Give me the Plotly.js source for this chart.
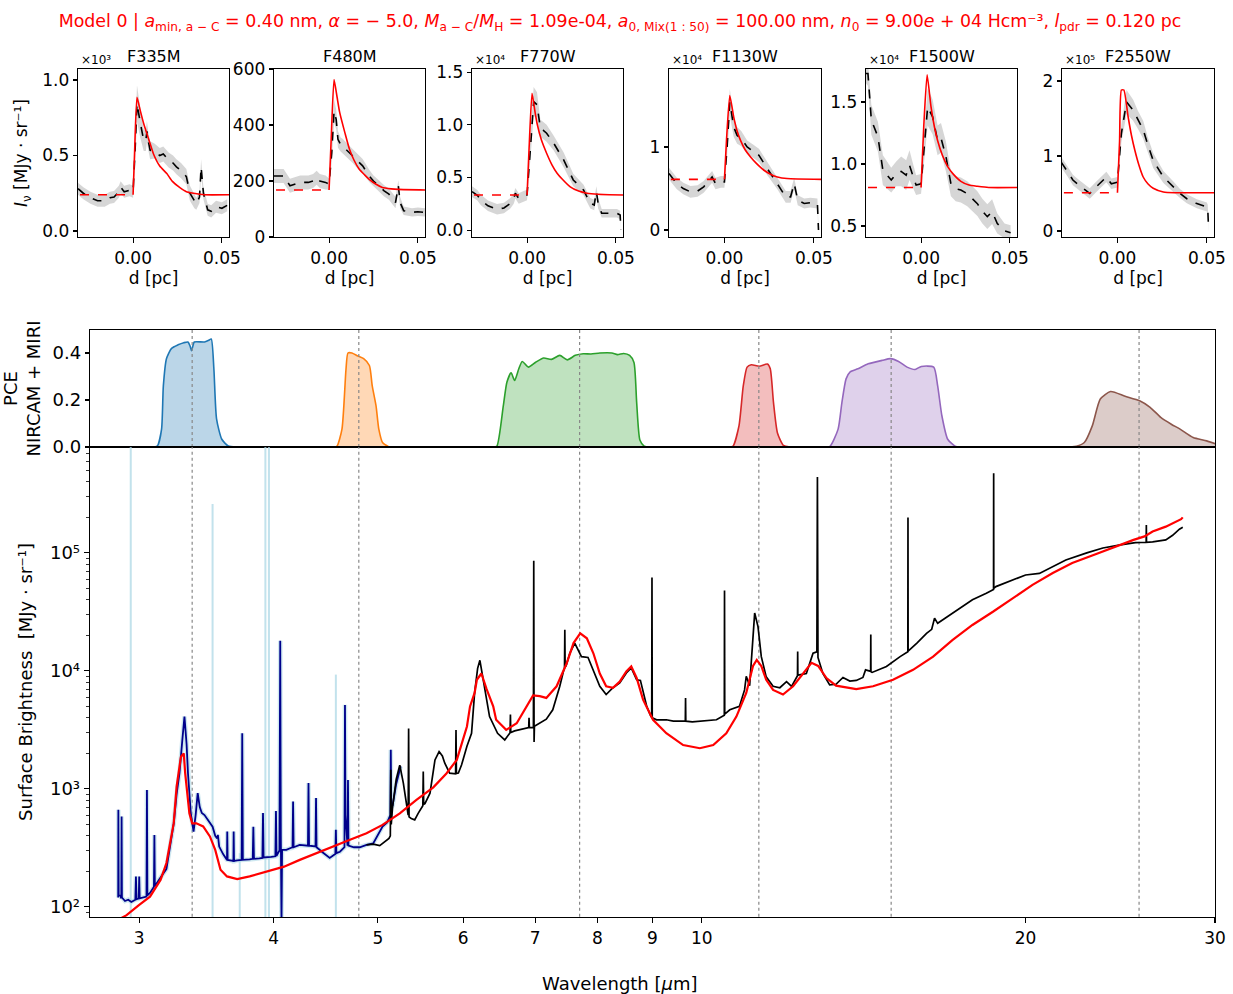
<!DOCTYPE html>
<html><head><meta charset="utf-8">
<script src="https://cdn.plot.ly/plotly-3.0.1.min.js"></script>
<style>body{margin:0;background:#fff;} #chart{width:1233px;height:994px;}</style>
</head><body><div id="chart"></div>
<script>
// ---------------- DATA ----------------
const filterNames = ['F335M','F480M','F770W','F1130W','F1500W','F2550W'];
const filterScale = ['×10³','','×10⁴','×10⁴','×10⁴','×10⁵'];
const filterCenters = [3.36, 4.8, 7.7, 11.3, 15.0, 25.5];

// Profiles: distance d [pc], observed (in units of the panel multiplier), uncertainty, model
const p1D   = [-0.031,-0.028,-0.024,-0.020,-0.016,-0.013,-0.0107,-0.008,-0.007,-0.005,-0.002,0.000,0.0012,0.0022,0.004,0.006,0.0072,0.0078,0.0085,0.0096,0.012,0.015,0.017,0.020,0.0225,0.0244,0.027,0.030,0.032,0.0345,0.0356,0.0374,0.0383,0.0396,0.042,0.044,0.0467,0.050,0.053];
const p1Obs = [0.28,0.25,0.22,0.20,0.20,0.22,0.225,0.26,0.29,0.26,0.27,0.26,0.55,0.845,0.72,0.60,0.60,0.66,0.60,0.535,0.53,0.50,0.51,0.47,0.45,0.425,0.40,0.36,0.25,0.20,0.18,0.225,0.425,0.25,0.14,0.13,0.16,0.15,0.17];
const p1Err = [0.04,0.04,0.04,0.04,0.04,0.04,0.04,0.04,0.04,0.04,0.04,0.04,0.08,0.12,0.10,0.07,0.07,0.07,0.06,0.06,0.05,0.05,0.05,0.05,0.05,0.05,0.05,0.05,0.05,0.05,0.04,0.04,0.05,0.04,0.04,0.04,0.04,0.04,0.04];
const p1ModD = [0,0.0008,0.0022,0.004,0.006,0.009,0.0115,0.015,0.019,0.022,0.026,0.030,0.034,0.040,0.054];
const p1Mod  = [0.24,0.5,0.885,0.80,0.71,0.60,0.51,0.43,0.38,0.33,0.29,0.26,0.25,0.24,0.24];
const p1Base = 0.24;

const p2D   = [-0.031,-0.0256,-0.022,-0.019,-0.0163,-0.0117,-0.009,-0.007,-0.0052,-0.002,0.000,0.0015,0.0028,0.004,0.005,0.0065,0.0078,0.010,0.0133,0.0160,0.0189,0.0226,0.025,0.028,0.031,0.0337,0.0374,0.039,0.040,0.042,0.0467,0.050,0.054];
const p2Obs = [218,218,183,190,195,195,200,212,200,195,189,300,450,420,349,330,325,310,289,270,254,218,200,183,165,153,123,183,123,94,88,90,88];
const p2Err = [25,25,25,25,25,25,25,25,25,25,20,30,40,35,30,25,25,25,25,25,25,22,20,20,20,20,20,20,20,15,15,15,15];
const p2ModD = [0,0.0012,0.0028,0.0045,0.006,0.009,0.0115,0.014,0.017,0.020,0.0226,0.026,0.030,0.035,0.039,0.054];
const p2Mod  = [168,350,562,500,444,370,313,275,242,222,206,190,177,172,170,168];
const p2Base = 168;

const p3D   = [-0.031,-0.028,-0.026,-0.022,-0.0169,-0.013,-0.0094,-0.0075,-0.0066,-0.0047,-0.002,0.000,0.002,0.0037,0.0056,0.0075,0.009,0.011,0.015,0.0206,0.026,0.0318,0.0356,0.0378,0.039,0.040,0.042,0.046,0.0506,0.0524,0.0528];
const p3Obs = [0.365,0.33,0.285,0.23,0.197,0.21,0.254,0.30,0.35,0.30,0.32,0.333,0.8,1.22,1.19,0.967,0.95,0.92,0.825,0.666,0.476,0.38,0.254,0.238,0.365,0.254,0.159,0.159,0.159,0.143,0.0];
const p3Err = [0.05,0.05,0.05,0.05,0.05,0.05,0.05,0.05,0.05,0.05,0.05,0.05,0.10,0.14,0.12,0.08,0.08,0.08,0.07,0.07,0.06,0.05,0.05,0.05,0.05,0.05,0.04,0.04,0.04,0.04,0.03];
const p3ModD = [0,0.0012,0.0028,0.0045,0.0056,0.008,0.011,0.014,0.0169,0.020,0.0243,0.029,0.0337,0.040,0.054];
const p3Mod  = [0.333,0.8,1.30,1.12,1.015,0.86,0.73,0.62,0.54,0.48,0.41,0.37,0.35,0.34,0.333];
const p3Base = 0.333;

const p4D   = [-0.031,-0.0266,-0.023,-0.019,-0.015,-0.0116,-0.0069,-0.005,-0.002,0.000,0.0015,0.003,0.0052,0.0071,0.0095,0.0127,0.0160,0.0193,0.024,0.0296,0.0343,0.037,0.039,0.041,0.0446,0.048,0.052,0.0526];
const p4Obs = [0.68,0.56,0.50,0.46,0.47,0.52,0.64,0.56,0.58,0.58,1.0,1.54,1.24,1.14,1.10,1.0,0.95,0.9,0.74,0.56,0.40,0.40,0.56,0.36,0.32,0.33,0.32,0.0];
const p4Err = [0.07,0.07,0.07,0.07,0.07,0.07,0.07,0.07,0.07,0.07,0.10,0.16,0.12,0.10,0.09,0.08,0.08,0.08,0.08,0.07,0.07,0.07,0.07,0.06,0.06,0.06,0.06,0.04];
const p4ModD = [0,0.0012,0.003,0.0052,0.007,0.009,0.0115,0.0146,0.018,0.0221,0.026,0.0296,0.035,0.054];
const p4Mod  = [0.61,1.1,1.62,1.36,1.20,1.08,0.97,0.88,0.80,0.72,0.67,0.64,0.62,0.61];
const p4Base = 0.61;

const p5D   = [-0.031,-0.0299,-0.028,-0.0243,-0.0215,-0.0168,-0.014,-0.0112,-0.0084,-0.0065,-0.0045,-0.0028,0.000,0.002,0.0037,0.0065,0.0093,0.0112,0.014,0.0168,0.0195,0.0224,0.026,0.0317,0.0345,0.0373,0.040,0.0429,0.047,0.0504];
const p5Obs = [1.73,1.73,1.355,1.22,0.95,0.87,0.92,0.94,0.91,0.99,0.90,0.83,0.84,1.2,1.46,1.38,1.19,1.21,1.06,0.84,0.80,0.79,0.76,0.68,0.62,0.575,0.615,0.52,0.46,0.446];
const p5Err = [0.08,0.10,0.12,0.12,0.12,0.10,0.10,0.12,0.12,0.12,0.10,0.08,0.08,0.12,0.15,0.14,0.12,0.12,0.12,0.10,0.10,0.10,0.10,0.10,0.10,0.10,0.10,0.08,0.06,0.06];
const p5ModD = [0,0.0015,0.0034,0.0056,0.0075,0.0093,0.012,0.0149,0.018,0.0224,0.027,0.0317,0.038,0.054];
const p5Mod  = [0.81,1.3,1.72,1.46,1.30,1.19,1.07,0.98,0.92,0.86,0.83,0.82,0.81,0.81];
const p5Base = 0.81;

const p6D   = [-0.0315,-0.028,-0.0249,-0.022,-0.0193,-0.0155,-0.0118,-0.009,-0.0062,-0.0034,0.000,0.0022,0.0051,0.0088,0.0115,0.0144,0.017,0.020,0.0257,0.0313,0.035,0.0388,0.0444,0.050,0.0505,0.051];
const p6Obs = [0.92,0.80,0.68,0.62,0.57,0.50,0.59,0.66,0.72,0.63,0.65,1.30,1.72,1.61,1.48,1.35,1.15,0.94,0.72,0.59,0.50,0.43,0.365,0.32,0.30,0.01];
const p6Err = [0.07,0.07,0.07,0.07,0.07,0.07,0.07,0.07,0.07,0.07,0.07,0.12,0.16,0.14,0.12,0.12,0.10,0.10,0.08,0.07,0.06,0.06,0.06,0.06,0.05,0.02];
const p6ModD = [0,0.0012,0.0022,0.0036,0.006,0.0078,0.0097,0.012,0.0144,0.017,0.020,0.0257,0.032,0.054];
const p6Mod  = [0.51,1.2,1.88,1.88,1.52,1.28,1.08,0.88,0.72,0.63,0.57,0.52,0.51,0.51];
const p6Base = 0.51;

// Filter PCE curves [wavelength um, PCE]
const pceF335M = [[3.10,0],[3.12,0.005],[3.147,0.076],[3.159,0.26],[3.18,0.376],[3.215,0.42],[3.26,0.435],[3.30,0.444],[3.33,0.447],[3.345,0.43],[3.355,0.41],[3.365,0.43],[3.375,0.447],[3.45,0.447],[3.48,0.454],[3.50,0.46],[3.52,0.33],[3.54,0.12],[3.58,0.033],[3.63,0.004],[3.69,0]];
const pceF480M = [[4.55,0],[4.58,0.003],[4.63,0.076],[4.67,0.33],[4.69,0.40],[4.73,0.40],[4.79,0.387],[4.85,0.376],[4.91,0.347],[4.94,0.26],[4.98,0.176],[5.01,0.076],[5.05,0.019],[5.12,0]];
const pceF770W = [[6.40,0],[6.45,0.003],[6.54,0.176],[6.59,0.276],[6.65,0.316],[6.70,0.283],[6.76,0.333],[6.81,0.364],[6.90,0.34],[7.01,0.361],[7.13,0.379],[7.25,0.373],[7.38,0.39],[7.50,0.371],[7.63,0.39],[7.76,0.397],[7.89,0.396],[8.04,0.40],[8.25,0.40],[8.35,0.393],[8.46,0.398],[8.57,0.39],[8.65,0.36],[8.70,0.19],[8.76,0.03],[8.84,0.004],[8.90,0]];
const pceF1130W = [[10.60,0],[10.69,0.003],[10.83,0.09],[10.93,0.26],[11.02,0.34],[11.12,0.35],[11.31,0.344],[11.51,0.353],[11.58,0.333],[11.66,0.19],[11.76,0.06],[11.91,0.007],[12.07,0]];
const pceF1500W = [[13.0,0],[13.16,0.003],[13.39,0.076],[13.50,0.19],[13.62,0.29],[13.74,0.32],[13.97,0.333],[14.28,0.354],[14.72,0.369],[14.98,0.376],[15.24,0.364],[15.52,0.34],[15.79,0.33],[16.0,0.343],[16.43,0.34],[16.57,0.26],[16.72,0.133],[16.93,0.033],[17.22,0.002],[17.4,0]];
const pceF2550W = [[22.0,0],[22.30,0.003],[22.68,0.019],[23.07,0.09],[23.47,0.204],[23.99,0.236],[24.75,0.216],[25.53,0.197],[26.11,0.169],[26.71,0.126],[27.32,0.097],[27.84,0.076],[28.63,0.04],[29.47,0.026],[30.3,0.007]];

// Spectra [wavelength um, surface brightness MJy/sr]
const nirspecSpec = [[2.868,120],[2.869,664],[2.871,126],[2.880,125],[2.887,118],[2.889,582],[2.891,120],[2.91,112],[2.93,115],[2.95,110],[2.975,115],[2.979,181],[2.983,116],[2.997,118],[3.0,181],[3.003,118],[3.02,120],[3.047,122],[3.05,977],[3.053,125],[3.07,131],[3.09,145],[3.096,148],[3.099,407],[3.102,150],[3.13,170],[3.16,195],[3.18,210],[3.20,300],[3.23,510],[3.25,900],[3.27,1356],[3.29,2600],[3.305,4100],[3.32,2400],[3.33,1356],[3.35,624],[3.37,434],[3.385,600],[3.40,920],[3.415,700],[3.43,624],[3.45,600],[3.47,560],[3.49,520],[3.51,478],[3.53,400],[3.545,380],[3.55,407],[3.555,370],[3.56,324],[3.59,280],[3.62,250],[3.622,434],[3.625,250],[3.67,245],[3.672,434],[3.675,245],[3.70,248],[3.735,250],[3.74,2960],[3.745,250],[3.80,252],[3.825,255],[3.83,478],[3.835,255],[3.88,258],[3.905,260],[3.91,624],[3.915,262],[3.98,265],[4.015,268],[4.02,650],[4.025,270],[4.05,300],[4.057,18000],[4.062,400],[4.068,70],[4.073,304],[4.11,304],[4.165,320],[4.17,780],[4.175,320],[4.23,335],[4.305,330],[4.31,1120],[4.315,330],[4.375,325],[4.38,835],[4.385,320],[4.45,286],[4.51,260],[4.55,275],[4.565,280],[4.57,450],[4.575,285],[4.61,293],[4.655,320],[4.66,5150],[4.665,600],[4.685,330],[4.69,1190],[4.695,330],[4.75,320],[4.81,320],[4.88,335],[4.95,345],[5.05,480],[5.10,520],[5.135,600],[5.14,2140],[5.145,700],[5.16,720],[5.20,1100],[5.25,1550]];
// light-blue uncertainty spikes [wavelength, low, high]
const nirspecErrSpikes = [[2.946,70,1e6],[3.51,70,2.6e5],[3.72,70,285],[3.93,70,1e6],[3.96,70,1e6],[4.57,70,9300]];

const miriSpec = [[4.88,335],[4.95,340],[5.02,330],[5.08,360],[5.12,380],[5.135,400],[5.14,1450],[5.145,500],[5.16,705],[5.20,1200],[5.24,1590],[5.28,1120],[5.32,700],[5.335,600],[5.34,3250],[5.345,580],[5.37,560],[5.41,546],[5.45,620],[5.49,700],[5.505,720],[5.51,1400],[5.515,740],[5.53,750],[5.59,920],[5.65,1760],[5.70,2070],[5.74,1900],[5.77,1650],[5.83,1360],[5.88,1350],[5.905,1340],[5.91,3160],[5.915,1350],[5.94,1360],[5.98,1590],[6.05,2300],[6.11,2960],[6.15,6500],[6.19,10500],[6.22,12300],[6.25,9500],[6.28,7400],[6.35,4100],[6.46,2960],[6.56,2600],[6.63,2960],[6.635,3000],[6.64,4260],[6.645,3000],[6.70,3100],[6.77,3160],[6.87,3250],[6.905,3300],[6.91,4000],[6.915,3300],[6.975,3300],[6.98,86000],[6.985,2500],[6.99,3400],[7.07,3600],[7.17,3900],[7.27,4680],[7.38,7400],[7.44,10000],[7.455,10500],[7.46,22300],[7.465,11000],[7.48,11000],[7.54,14100],[7.62,17200],[7.67,15000],[7.73,13200],[7.84,13000],[7.93,10200],[8.04,7400],[8.15,6300],[8.27,7200],[8.39,7900],[8.51,9600],[8.60,10600],[8.70,8400],[8.77,8300],[8.89,5000],[8.97,4100],[8.985,4050],[8.99,62000],[8.995,4000],[9.08,3850],[9.27,3850],[9.41,3750],[9.55,3750],[9.655,3750],[9.66,5900],[9.665,3750],[9.80,3700],[9.96,3750],[10.15,3800],[10.32,3850],[10.495,4200],[10.50,48000],[10.505,4300],[10.62,4680],[10.84,5000],[10.96,6900],[11.0,9000],[11.08,7500],[11.14,15000],[11.2,30900],[11.28,23700],[11.36,13200],[11.48,8900],[11.65,7400],[11.82,7200],[11.99,8100],[12.12,7400],[12.26,9000],[12.275,9100],[12.28,14600],[12.285,9200],[12.51,9500],[12.69,14100],[12.795,14500],[12.81,440000],[12.825,13000],[12.96,9500],[13.15,7600],[13.33,7700],[13.53,8800],[13.73,8200],[13.92,8300],[14.12,8800],[14.2,10200],[14.355,9900],[14.36,20300],[14.365,9800],[14.4,9700],[14.85,10900],[15.29,13200],[15.545,14500],[15.55,200000],[15.555,14700],[15.85,17200],[16.18,20800],[16.36,22500],[16.46,28000],[16.57,25300],[16.85,28000],[17.31,32900],[17.85,40000],[18.39,45500],[18.675,49000],[18.68,473000],[18.685,50000],[18.77,51800],[19.47,58700],[20.0,65000],[20.6,67000],[21.2,76000],[21.8,87000],[22.8,100000],[23.6,110000],[24.5,117000],[25.3,122000],[25.89,123000],[25.9,172000],[25.91,123000],[26.25,124000],[27.0,129000],[27.4,141000],[27.8,159000],[28.0,165000]];

const modelSpec = [[2.87,78],[2.92,85],[3.00,104],[3.07,122],[3.14,169],[3.18,235],[3.23,512],[3.25,1045],[3.28,1870],[3.30,2000],[3.31,1360],[3.34,620],[3.36,510],[3.39,510],[3.44,480],[3.49,395],[3.53,304],[3.57,206],[3.62,181],[3.70,172],[3.80,181],[3.94,198],[4.09,219],[4.23,250],[4.38,285],[4.55,325],[4.71,370],[4.88,420],[5.05,495],[5.24,620],[5.43,807],[5.63,1030],[5.79,1350],[5.92,1760],[6.0,2600],[6.05,3380],[6.09,5000],[6.15,6500],[6.18,8400],[6.24,9500],[6.31,7000],[6.40,5000],[6.44,3850],[6.58,3160],[6.73,3600],[6.87,5000],[6.97,6200],[7.07,6100],[7.17,5900],[7.33,7400],[7.49,11600],[7.60,17200],[7.71,20800],[7.82,18900],[7.93,14100],[8.04,9500],[8.15,7400],[8.27,7200],[8.39,8100],[8.51,9900],[8.60,10900],[8.70,8700],[8.82,5700],[9.01,3850],[9.27,2960],[9.61,2350],[9.96,2210],[10.25,2350],[10.54,2960],[10.77,4100],[11.0,6500],[11.16,11000],[11.25,12400],[11.36,11000],[11.48,8400],[11.65,6900],[11.9,6300],[12.16,7400],[12.42,9500],[12.65,11700],[12.83,11000],[13.06,8700],[13.33,7500],[13.73,7100],[13.92,7000],[14.43,7400],[15.06,8400],[15.72,10200],[16.41,13200],[17.1,18200],[17.85,24500],[18.65,31700],[19.47,41300],[20.3,53600],[21.2,67500],[22.1,82000],[23.1,95600],[24.1,111000],[25.2,129000],[25.8,138000],[26.25,152000],[27.0,167000],[27.9,193000],[28.0,200000]];

const mainYTicks = [1e2,1e3,1e4,1e5];
const mainYTickText = ['10²','10³','10⁴','10⁵'];
const mainXTicks = [3,4,5,6,7,8,9,10,20,30];

// ---------------- LAYOUT HELPERS ----------------
const W = 1233, H = 994;
const FONT = 'DejaVu Sans, Liberation Sans, sans-serif';
const px2x = (a,b) => [a/W, b/W];
const px2y = (top,bot) => [1-bot/H, 1-top/H];
const panelPx = [[78,229],[274,425],[472,623],[669,821],[866,1017],[1062,1214]];
const panelTop = 69, panelBot = 237;
const panelYRange = [[-0.04,1.073],[0,600],[-0.066,1.53],[-0.084,1.94],[0.411,1.766],[-0.08,2.16]];
const panelYTicks = [[0,0.5,1.0],[0,200,400,600],[0,0.5,1.0,1.5],[0,1],[0.5,1.0,1.5],[0,1,2]];
const panelYFmt = ['.1f','d','.1f','d','.1f','d'];

const profiles = [
  {d:p1D,obs:p1Obs,err:p1Err,md:p1ModD,mod:p1Mod,base:p1Base},
  {d:p2D,obs:p2Obs,err:p2Err,md:p2ModD,mod:p2Mod,base:p2Base},
  {d:p3D,obs:p3Obs,err:p3Err,md:p3ModD,mod:p3Mod,base:p3Base},
  {d:p4D,obs:p4Obs,err:p4Err,md:p4ModD,mod:p4Mod,base:p4Base},
  {d:p5D,obs:p5Obs,err:p5Err,md:p5ModD,mod:p5Mod,base:p5Base},
  {d:p6D,obs:p6Obs,err:p6Err,md:p6ModD,mod:p6Mod,base:p6Base}
];

const traces = [];
const layout = {
  width: W, height: H, margin:{l:0,r:0,t:0,b:0},
  paper_bgcolor:'#fff', plot_bgcolor:'#fff', showlegend:false,
  font:{family:FONT, color:'#000', size:17},
  title:{text:'Model 0 | <i>a</i><sub>min, a − C</sub> = 0.40 nm, <i>α</i> = − 5.0, <i>M</i><sub>a − C</sub>/<i>M</i><sub>H</sub> = 1.09e-04, <i>a</i><sub>0, Mix(1 : 50)</sub> = 100.00 nm, <i>n</i><sub>0</sub> = 9.00<i>e</i> + 04 Hcm⁻³, <i>l</i><sub>pdr</sub> = 0.120 pc',
         x:620/W, xanchor:'center', y:1-21/H, yanchor:'middle', yref:'container',
         font:{family:FONT, size:17.4, color:'#ff0000'}},
  annotations:[], shapes:[]
};

function baseAxis(extra){
  return Object.assign({showgrid:false, zeroline:false, showline:true, linecolor:'#000', linewidth:1.3,
    mirror:true, ticks:'outside', ticklen:5, tickwidth:1.1, tickcolor:'#000',
    tickfont:{family:FONT,size:17,color:'#000'}}, extra);
}

// ---- top profile panels ----
profiles.forEach((p,i)=>{
  const n = i+1;
  const xa = n===1?'x':'x'+n, ya = n===1?'y':'y'+n;
  const up = p.obs.map((v,k)=>v+p.err[k]);
  const lo = p.obs.map((v,k)=>v-p.err[k]);
  traces.push({x:p.d.concat(p.d.slice().reverse()), y:up.concat(lo.slice().reverse()),
    type:'scatter', mode:'lines', fill:'toself', fillcolor:'rgba(200,200,200,0.75)',
    line:{width:0, shape:'linear'}, xaxis:xa, yaxis:ya, hoverinfo:'skip'});
  traces.push({x:p.d, y:p.obs, type:'scatter', mode:'lines', line:{color:'#000', width:1.6, dash:'dash'}, xaxis:xa, yaxis:ya});
  traces.push({x:[-0.04,0], y:[p.base,p.base], type:'scatter', mode:'lines', line:{color:'#ff0000', width:1.6, dash:'dash'}, xaxis:xa, yaxis:ya});
  traces.push({x:p.md, y:p.mod, type:'scatter', mode:'lines', line:{color:'#ff0000', width:1.6, shape:'spline', smoothing:0.5}, xaxis:xa, yaxis:ya});
  const xk = n===1?'xaxis':'xaxis'+n, yk = n===1?'yaxis':'yaxis'+n;
  layout[xk] = baseAxis({domain:px2x(...panelPx[i]), anchor:ya, range:[-0.031,0.054],
    tickvals:[0,0.05], tickformat:'.2f',
    title:{text:'d [pc]', font:{family:FONT,size:17}, standoff:4}});
  layout[yk] = baseAxis({domain:px2y(panelTop,panelBot), anchor:xa, range:panelYRange[i],
    tickvals:panelYTicks[i], tickformat:panelYFmt[i], ticklen:4});
  if(i===0){
    layout[yk].title = {text:'<i>I</i><sub>ν</sub> [MJy · sr⁻¹]', font:{family:FONT,size:17}, standoff:10};
  }
  const cx = (panelPx[i][0]+panelPx[i][1])/2;
  layout.annotations.push({xref:'paper', yref:'paper', x:cx/W, y:1-56/H, text:filterNames[i],
    showarrow:false, xanchor:'center', yanchor:'middle', font:{family:FONT,size:16}});
  if(filterScale[i]){
    layout.annotations.push({xref:'paper', yref:'paper', x:(panelPx[i][0]+1)/W, y:1-60/H, text:filterScale[i],
      showarrow:false, xanchor:'left', yanchor:'middle', font:{family:FONT,size:12}});
  }
});

// ---- PCE panel (x7,y7) and main spectrum (x8,y8) ----
const xr = [Math.log10(2.70), Math.log10(30)];
const pceColors = ['#1f77b4','#ff7f0e','#2ca02c','#d62728','#9467bd','#8c564b'];
const pceFill = ['rgba(31,119,180,0.3)','rgba(255,127,14,0.3)','rgba(44,160,44,0.3)','rgba(214,39,40,0.3)','rgba(148,103,189,0.3)','rgba(140,86,75,0.3)'];
[pceF335M,pceF480M,pceF770W,pceF1130W,pceF1500W,pceF2550W].forEach((c,i)=>{
  traces.push({x:c.map(p=>p[0]), y:c.map(p=>p[1]), type:'scatter', mode:'lines', fill:'tozeroy',
    fillcolor:pceFill[i], line:{color:pceColors[i], width:1.6, shape:'spline', smoothing:0.6},
    xaxis:'x7', yaxis:'y7'});
});
filterCenters.forEach(c=>{
  traces.push({x:[c,c], y:[0,0.6], type:'scatter', mode:'lines', line:{color:'#888', width:1.2, dash:'dot'}, xaxis:'x7', yaxis:'y7'});
});
layout.xaxis7 = baseAxis({domain:px2x(90,1215), anchor:'y7', type:'log', range:xr, showticklabels:false, ticks:''});
layout.yaxis7 = baseAxis({domain:px2y(330,447), anchor:'x7', range:[0,0.498], tickvals:[0,0.2,0.4], tickformat:'.1f', ticklen:4,
  tickfont:{family:FONT,size:18,color:'#000'},
  title:{text:'PCE<br>NIRCAM + MIRI', font:{family:FONT,size:18}, standoff:8}});

// main spectrum
filterCenters.forEach(c=>{
  traces.push({x:[c,c], y:[10,1e7], type:'scatter', mode:'lines', line:{color:'#888', width:1.2, dash:'dot'}, xaxis:'x8', yaxis:'y8'});
});
const sx=[], sy=[];
nirspecErrSpikes.forEach(s=>{ sx.push(s[0],s[0],null); sy.push(s[1],s[2],null); });
traces.push({x:sx, y:sy, type:'scatter', mode:'lines', line:{color:'rgba(173,216,230,0.75)', width:2}, xaxis:'x8', yaxis:'y8', connectgaps:false});
traces.push({x:nirspecSpec.map(p=>p[0]), y:nirspecSpec.map(p=>p[1]), type:'scatter', mode:'lines',
  line:{color:'rgba(173,216,230,0.6)', width:4.5}, xaxis:'x8', yaxis:'y8'});
traces.push({x:nirspecSpec.map(p=>p[0]), y:nirspecSpec.map(p=>p[1]), type:'scatter', mode:'lines',
  line:{color:'#00008b', width:1.8}, xaxis:'x8', yaxis:'y8'});
traces.push({x:miriSpec.map(p=>p[0]), y:miriSpec.map(p=>p[1]), type:'scatter', mode:'lines',
  line:{color:'#000', width:1.7}, xaxis:'x8', yaxis:'y8'});
traces.push({x:modelSpec.map(p=>p[0]), y:modelSpec.map(p=>p[1]), type:'scatter', mode:'lines',
  line:{color:'#ff0000', width:2.2}, xaxis:'x8', yaxis:'y8'});

const minorY = [];
for(let e=1;e<=6;e++) for(let m=2;m<=9;m++) minorY.push(m*Math.pow(10,e));
layout.xaxis8 = baseAxis({domain:px2x(90,1215), anchor:'y8', type:'log', range:xr, tickvals:mainXTicks, ticktext:mainXTicks.map(String),
  tickfont:{family:FONT,size:17,color:'#000'}});
layout.annotations.push({xref:'paper', yref:'paper', x:620/W, y:1-983/H, xanchor:'center', yanchor:'middle', showarrow:false,
  text:'Wavelength [<i>μ</i>m]', font:{family:FONT,size:18}});
layout.yaxis8 = baseAxis({domain:px2y(447,917), anchor:'x8', type:'log', range:[Math.log10(82), Math.log10(7.9e5)],
  tickvals:mainYTicks, ticktext:mainYTickText, tickfont:{family:FONT,size:18,color:'#000'},
  minor:{tickvals:minorY, ticks:'outside', ticklen:2.5, tickcolor:'#000', tickwidth:0.8},
  title:{text:'Surface Brightness  [MJy · sr⁻¹]', font:{family:FONT,size:18}, standoff:12}});

Plotly.newPlot('chart', traces, layout, {staticPlot:true, displayModeBar:false});
</script></body></html>
